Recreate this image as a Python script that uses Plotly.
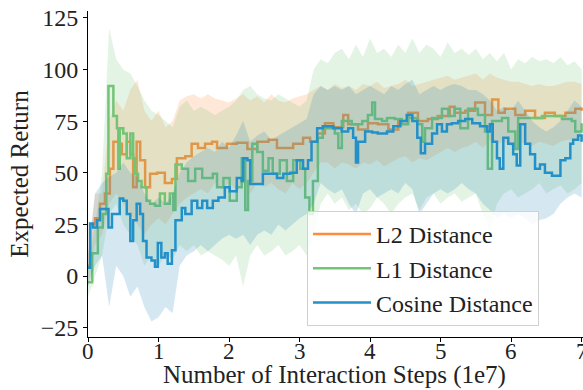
import plotly.graph_objects as go

# ---- mean curves (x in units of 1e7 interaction steps) ----
l2_x = [0, 0.03, 0.1, 0.17, 0.24, 0.31, 0.36, 0.43, 0.48, 0.55,
        0.6, 0.64, 0.69, 0.74, 0.81, 0.88, 0.98, 1.09, 1.19, 1.26,
        1.38, 1.47, 1.56, 1.66, 1.76, 1.83, 1.97, 2.11, 2.26, 2.4,
        2.56, 2.68, 2.79, 2.91, 3.05, 3.15, 3.25, 3.36, 3.48, 3.62,
        3.69, 3.83, 3.97, 4.11, 4.26, 4.4, 4.54, 4.68, 4.82, 4.96,
        5.13, 5.2, 5.35, 5.49, 5.63, 5.73, 5.82, 5.91, 6.06, 6.2,
        6.34, 6.48, 6.62, 6.77, 6.91, 7.0]
l2_mean = [5, 25, 28, 35, 40, 52, 65, 64, 59, 65,
           59, 43, 65, 56, 43, 49.5, 50, 45, 47, 57,
           58, 64, 62, 64, 65, 62, 64, 64.5, 61.5, 65,
           66, 62, 62, 64, 67, 65, 69, 74, 72, 78,
           73.5, 71, 74, 73.5, 71, 75, 79, 75, 76, 77.5,
           82, 79, 80, 84, 78, 85.5, 79, 81, 78, 80,
           76.5, 79, 77.5, 79, 81, 80]

l1_x = [0, 0.06, 0.14, 0.21, 0.26, 0.29, 0.34, 0.36, 0.41, 0.43,
        0.45, 0.5, 0.55, 0.6, 0.64, 0.67, 0.71, 0.76, 0.83, 0.88,
        0.95, 1.02, 1.09, 1.16, 1.21, 1.24, 1.33, 1.42, 1.52, 1.62,
        1.7, 1.77, 1.83, 1.92, 2.01, 2.11, 2.18, 2.23, 2.27, 2.33,
        2.4, 2.48, 2.56, 2.62, 2.72, 2.82, 2.91, 3.01, 3.08, 3.14,
        3.19, 3.26, 3.33, 3.43, 3.5, 3.55, 3.6, 3.74, 3.89, 3.97,
        4.03, 4.07, 4.17, 4.24, 4.35, 4.45, 4.54, 4.67, 4.74, 4.78,
        4.88, 5.02, 5.11, 5.2, 5.28, 5.39, 5.53, 5.63, 5.67, 5.73,
        5.87, 5.96, 6.06, 6.1, 6.24, 6.44, 6.58, 6.72, 6.86, 6.91,
        7.0]
l1_mean = [-3, 11, 23.5, 30, 49.5, 92, 92, 77.5, 71.5, 52,
           71.5, 69, 57, 69, 57, 49.5, 46, 43, 36.5, 35,
           34, 40, 35, 40, 32, 54, 52, 46, 52, 47.5,
           47.5, 49.5, 43, 47.5, 36.5, 43, 57, 32, 46, 64,
           60, 51, 57, 49.5, 56, 46, 56, 52, 38, 30,
           46, 67, 71.5, 71.5, 69, 62, 75, 73.5, 75, 78,
           84, 76, 75, 76.5, 76, 73.5, 76.5, 73.5, 65, 71.5,
           76.5, 81, 77.5, 81, 71.5, 81, 78, 70, 52, 75,
           76.5, 70, 61.5, 76.5, 76.5, 77.5, 77.5, 76, 75, 70,
           74]

cos_x = [0, 0.03, 0.07, 0.13, 0.17, 0.24, 0.29, 0.34, 0.41, 0.45,
         0.5, 0.55, 0.6, 0.64, 0.69, 0.74, 0.78, 0.83, 0.9, 0.95,
         0.99, 1.04, 1.09, 1.13, 1.19, 1.24, 1.33, 1.38, 1.47, 1.55,
         1.62, 1.69, 1.77, 1.85, 1.94, 2.01, 2.11, 2.18, 2.2, 2.26,
         2.3, 2.4, 2.48, 2.58, 2.68, 2.77, 2.87, 2.96, 3.05, 3.12,
         3.17, 3.25, 3.33, 3.48, 3.6, 3.69, 3.76, 3.8, 3.83, 3.93,
         4.03, 4.11, 4.24, 4.33, 4.43, 4.52, 4.6, 4.67, 4.72, 4.78,
         4.88, 4.95, 5.02, 5.09, 5.16, 5.25, 5.35, 5.45, 5.56, 5.66,
         5.7, 5.74, 5.8, 5.84, 5.89, 5.96, 6.03, 6.08, 6.13, 6.2,
         6.27, 6.34, 6.41, 6.48, 6.58, 6.65, 6.7, 6.77, 6.84, 6.88,
         6.95, 7.0]
cos_mean = [4, 25.5, 23.5, 27, 32.5, 32.5, 23.5, 30, 30, 37.5,
            36.5, 30, 17, 27, 35, 30, 17, 9, 7.5, 4.5,
            16, 9, 11, 6, 12.5, 27, 33, 30, 36.5, 33,
            36.5, 33, 36.5, 38, 43, 41, 47.5, 46, 57, 56,
            44.5, 44.5, 49.5, 49.5, 47.5, 49.5, 50, 56, 52, 56,
            65, 71.5, 72.5, 71.5, 70, 71.5, 67, 55, 65, 70,
            69.5, 69, 70, 72.5, 75, 78, 75, 67, 59.5, 64,
            69, 73.5, 70, 73.5, 74, 75, 76, 74, 72.5, 70,
            73.5, 65, 57, 52, 67, 64, 59, 53.5, 73.5, 64,
            59, 52, 54, 50, 48.5, 48.5, 56, 57, 64, 66,
            68, 65]

# ---- spread bands, sampled every 0.1e7 steps ----
band_x = [round(i * 0.1, 1) for i in range(71)]

l2_lo = [-5, 15, 20, 35, 40, 35, 30, 25, 20, 25,
         28, 25, 30, 35, 38, 40, 42, 40, 45, 42,
         45, 42, 45, 40, 45, 43, 45, 42, 40, 45,
         42, 45, 50, 55, 55, 52, 55, 54, 52, 55,
         54, 56, 53, 55, 57, 58, 55, 57, 56, 58,
         60, 62, 60, 62, 63, 65, 62, 66, 64, 65,
         63, 65, 64, 63, 65, 64, 63, 65, 66, 66,
         65]
l2_hi = [10, 40, 40, 75, 85, 80, 90, 95, 80, 75,
         80, 72, 75, 85, 87, 88, 86, 88, 86, 85,
         84, 86, 88, 85, 87, 84, 88, 85, 84, 86,
         87, 88, 90, 92, 90, 93, 91, 92, 90, 93,
         92, 94, 91, 92, 93, 95, 92, 93, 94, 95,
         96, 97, 95, 96, 97, 98, 95, 98, 96, 95,
         94, 94, 93, 92, 93, 92, 92, 93, 94, 94,
         93]

l1_lo = [-10, 0, 10, 30, 35, 25, 20, 15, 5, 10,
         5, 10, 8, 15, 12, 15, 10, 12, 10, 8,
         5, 10, -5, 10, 15, 10, 12, 15, 10, 12,
         15, 10, 20, 35, 40, 35, 38, 32, 35, 30,
         33, 38, 35, 30, 35, 38, 40, 32, 38, 40,
         35, 38, 40, 36, 38, 40, 30, 22, 35, 40,
         42, 38, 40, 42, 45, 40, 42, 44, 40, 42,
         45]
l1_hi = [5, 25, 50, 120, 105, 100, 98, 92, 85, 80,
         78, 75, 72, 82, 85, 80, 82, 80, 78, 80,
         82, 85, 90, 92, 88, 86, 85, 88, 86, 84,
         82, 85, 100, 105, 103, 108, 110, 105, 112, 106,
         115, 108, 110, 106, 112, 108, 115, 108, 112, 110,
         106, 113, 108, 110, 107, 110, 105, 108, 104, 108,
         100, 105, 103, 106, 104, 105, 103, 106, 102, 104,
         100]

cos_lo = [-5, 5, 10, -15, 5, 0, -10, -5, -15, -22,
          -20, -15, -18, 5, 10, 12, 15, 12, 15, 18,
          20, 18, 20, 15, 20, 22, 20, 25, 22, 25,
          28, 30, 35, 45, 42, 40, 42, 35, 30, 40,
          42, 38, 40, 42, 40, 45, 42, 30, 35, 40,
          42, 40, 42, 45, 42, 40, 35, 32, 28, 30,
          28, 30, 28, 25, 27, 28, 30, 35, 38, 40,
          38]
cos_hi = [10, 40, 45, 48, 50, 55, 50, 48, 40, 35,
          38, 35, 40, 50, 55, 58, 60, 62, 60, 65,
          62, 68, 75, 65, 68, 70, 66, 68, 70, 72,
          74, 76, 88, 92, 90, 92, 90, 92, 88, 90,
          92, 90, 88, 92, 90, 93, 95, 88, 90, 92,
          90, 92, 93, 92, 90, 90, 88, 85, 80, 82,
          80, 85, 80, 75, 72, 70, 72, 75, 80, 85,
          82]

x_ticks = [0, 1, 2, 3, 4, 5, 6, 7]
x_title = "Number of Interaction Steps (1e7)"

series = [
    ("L2 Distance", l2_x, l2_mean, l2_lo, l2_hi, "#fd8d3c", "rgba(253,141,60,0.2)"),
    ("L1 Distance", l1_x, l1_mean, l1_lo, l1_hi, "#74c476", "rgba(116,196,118,0.2)"),
    ("Cosine Distance", cos_x, cos_mean, cos_lo, cos_hi, "#2390c8", "rgba(43,140,190,0.2)"),
]

fig = go.Figure()
for name, xs, ys, lo, hi, color, fill in series:
    fig.add_trace(go.Scatter(x=band_x, y=lo, mode="lines", line=dict(width=0),
                             hoverinfo="skip", showlegend=False))
    fig.add_trace(go.Scatter(x=band_x, y=hi, mode="lines", line=dict(width=0),
                             fill="tonexty", fillcolor=fill, hoverinfo="skip", showlegend=False))
    fig.add_trace(go.Scatter(x=xs, y=ys, mode="lines", name=name,
                             line=dict(color=color, width=2.5, shape="hv")))

font_family = "Liberation Serif, serif"
text_color = "#222"

# x tick labels and the x title are placed as annotations so they sit
# close under the axis line, leaving room between labels and title
annotations = [dict(x=v, xref="x", y=0, yref="paper", yanchor="middle", yshift=-14,
                    text=str(v), showarrow=False,
                    font=dict(family=font_family, size=23, color=text_color))
               for v in x_ticks]
annotations.append(dict(x=0.498, xref="paper", y=0, yref="paper", yanchor="middle",
                        yshift=-38, text=x_title, showarrow=False,
                        font=dict(family=font_family, size=25, color=text_color)))

fig.update_layout(
    width=583, height=390,
    margin=dict(l=88, r=0, t=11, b=53),
    plot_bgcolor="white", paper_bgcolor="white",
    font=dict(family=font_family, size=24, color=text_color),
    showlegend=True,
    legend=dict(x=0.4424, y=0.034, xanchor="left", yanchor="bottom",
                traceorder="normal",
                bgcolor="rgba(255,255,255,0.8)", bordercolor="#d0d0d0", borderwidth=1,
                font=dict(family=font_family, size=24, color=text_color),
                itemwidth=58),
    annotations=annotations,
)
fig.update_xaxes(range=[0, 7.02], tickvals=x_ticks, showticklabels=False,
                 showline=True, linecolor="black", linewidth=1, showgrid=False, zeroline=False,
                 ticks="outside", ticklen=4, tickcolor="black")
fig.update_yaxes(range=[-29.5, 128.3], tickvals=[-25, 0, 25, 50, 75, 100, 125],
                 ticktext=["\u221225", "0", "25", "50", "75", "100", "125"],
                 showline=True, linecolor="black", linewidth=1, showgrid=False, zeroline=False,
                 ticks="outside", ticklen=4, tickcolor="black",
                 tickfont=dict(size=24, color=text_color),
                 title=dict(text="Expected Return", font=dict(size=25, color=text_color),
                            standoff=4))

fig.write_html("out.html")
